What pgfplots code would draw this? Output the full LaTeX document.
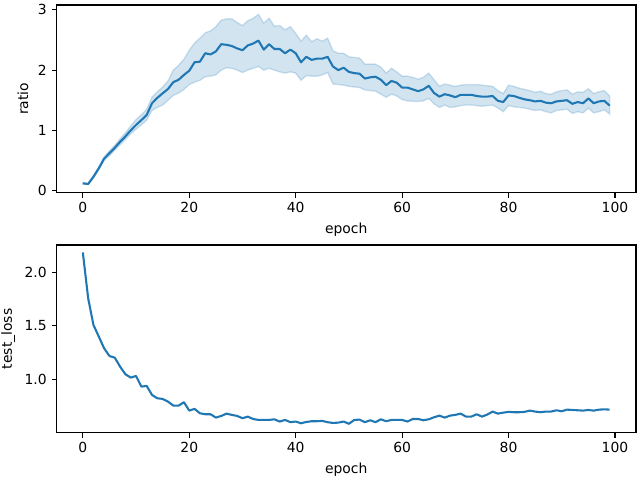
\documentclass[border=0pt]{standalone}
\usepackage{fontspec}
\setmainfont{DejaVu Sans}
\usepackage{pgfplots}
\pgfplotsset{compat=1.18}
\usepackage{pgfplotstable}
\definecolor{c0}{HTML}{1F77B4}

% mean ratio per epoch
\pgfplotstableread{
ep mean
0 0.12
1 0.11
2 0.23
3 0.37
4 0.53
5 0.62
6 0.71
7 0.81
8 0.90
9 1.00
10 1.09
11 1.17
12 1.255
13 1.45
14 1.54
15 1.615
16 1.686
17 1.80
18 1.84
19 1.92
20 1.99
21 2.13
22 2.14
23 2.28
24 2.26
25 2.31
26 2.43
27 2.42
28 2.40
29 2.36
30 2.33
31 2.41
32 2.44
33 2.49
34 2.34
35 2.43
36 2.35
37 2.35
38 2.28
39 2.34
40 2.28
41 2.13
42 2.22
43 2.17
44 2.19
45 2.19
46 2.22
47 2.06
48 2.00
49 2.04
50 1.97
51 1.95
52 1.94
53 1.86
54 1.88
55 1.89
56 1.84
57 1.75
58 1.82
59 1.79
60 1.71
61 1.71
62 1.68
63 1.65
64 1.68
65 1.74
66 1.62
67 1.56
68 1.60
69 1.58
70 1.55
71 1.59
72 1.59
73 1.59
74 1.57
75 1.56
76 1.56
77 1.57
78 1.49
79 1.47
80 1.58
81 1.57
82 1.54
83 1.515
84 1.50
85 1.48
86 1.49
87 1.46
88 1.45
89 1.48
90 1.49
91 1.50
92 1.44
93 1.47
94 1.45
95 1.53
96 1.45
97 1.48
98 1.49
99 1.41
}\ratiotab

% confidence band outline: upper edge 0..99, then lower edge 99..0
\pgfplotstableread{
ep band
0 0.13
1 0.12
2 0.25
3 0.39
4 0.56
5 0.66
6 0.75
7 0.86
8 0.96
9 1.07
10 1.18
11 1.26
12 1.35
13 1.55
14 1.64
15 1.72
16 1.82
17 2.00
18 2.08
19 2.18
20 2.33
21 2.45
22 2.53
23 2.62
24 2.65
25 2.72
26 2.83
27 2.85
28 2.85
29 2.79
30 2.74
31 2.82
32 2.86
33 2.925
34 2.78
35 2.86
36 2.73
37 2.74
38 2.67
39 2.72
40 2.61
41 2.48
42 2.58
43 2.47
44 2.52
45 2.48
46 2.53
47 2.32
48 2.28
49 2.28
50 2.22
51 2.21
52 2.20
53 2.10
54 2.10
55 2.10
56 2.05
57 1.95
58 2.03
59 1.97
60 1.90
61 1.90
62 1.88
63 1.85
64 1.88
65 1.95
66 1.84
67 1.73
68 1.77
69 1.75
70 1.73
71 1.75
72 1.76
73 1.76
74 1.76
75 1.75
76 1.74
77 1.73
78 1.66
79 1.61
80 1.75
81 1.73
82 1.70
83 1.68
84 1.66
85 1.63
86 1.65
87 1.61
88 1.60
89 1.64
90 1.66
91 1.67
92 1.60
93 1.64
94 1.63
95 1.69
96 1.61
97 1.64
98 1.66
99 1.57
99 1.27
98 1.34
97 1.31
96 1.29
95 1.37
94 1.29
93 1.31
92 1.28
91 1.35
90 1.34
89 1.33
88 1.29
87 1.31
86 1.34
85 1.33
84 1.35
83 1.37
82 1.38
81 1.39
80 1.41
79 1.31
78 1.37
77 1.42
76 1.41
75 1.40
74 1.41
73 1.42
72 1.42
71 1.41
70 1.39
69 1.38
68 1.42
67 1.38
66 1.44
65 1.53
64 1.49
63 1.48
62 1.48
61 1.49
60 1.51
59 1.57
58 1.60
57 1.55
56 1.60
55 1.65
54 1.66
53 1.67
52 1.71
51 1.72
50 1.73
49 1.75
48 1.76
47 1.77
46 1.96
45 1.92
44 1.90
43 1.90
42 1.91
41 1.83
40 1.95
39 1.97
38 1.95
37 1.97
36 2.00
35 2.03
34 2.00
33 2.06
32 2.03
31 2.00
30 1.96
29 2.00
28 2.03
27 2.04
26 2.00
25 1.92
24 1.90
23 1.89
22 1.83
21 1.80
20 1.76
19 1.68
18 1.62
17 1.58
16 1.50
15 1.42
14 1.38
13 1.33
12 1.17
11 1.09
10 1.02
9 0.94
8 0.85
7 0.76
6 0.67
5 0.58
4 0.50
3 0.35
2 0.21
1 0.10
0 0.11
}\bandtab

\pgfplotstableread{
ep loss
0 2.183
1 1.755
2 1.506
3 1.398
4 1.289
5 1.217
6 1.202
7 1.118
8 1.047
9 1.016
10 1.031
11 0.932
12 0.938
13 0.854
14 0.823
15 0.817
16 0.792
17 0.755
18 0.755
19 0.786
20 0.708
21 0.724
22 0.683
23 0.674
24 0.674
25 0.643
26 0.658
27 0.680
28 0.668
29 0.658
30 0.637
31 0.652
32 0.630
33 0.621
34 0.621
35 0.621
36 0.627
37 0.606
38 0.621
39 0.600
40 0.606
41 0.590
42 0.602
43 0.609
44 0.609
45 0.612
46 0.600
47 0.593
48 0.596
49 0.606
50 0.585
51 0.621
52 0.624
53 0.600
54 0.618
55 0.600
56 0.627
57 0.609
58 0.621
59 0.621
60 0.621
61 0.606
62 0.630
63 0.630
64 0.618
65 0.627
66 0.646
67 0.661
68 0.643
69 0.661
70 0.668
71 0.680
72 0.652
73 0.652
74 0.674
75 0.652
76 0.671
77 0.699
78 0.680
79 0.689
80 0.696
81 0.693
82 0.693
83 0.696
84 0.708
85 0.699
86 0.693
87 0.699
88 0.699
89 0.711
90 0.702
91 0.717
92 0.714
93 0.711
94 0.708
95 0.714
96 0.708
97 0.717
98 0.720
99 0.717
}\losstab

\pgfplotsset{
  mpl/.style={
    scale only axis,
    width=417.24pt, height=135.1pt,
    anchor=south west,
    xmin=-4.95, xmax=103.95,
    xtick={0,20,40,60,80,100},
    xtick pos=left, ytick pos=left,
    tick align=outside,
    major tick length=3.5pt,
    every tick/.style={black, line width=0.8pt},
    axis line style={line width=0.8pt},
    /pgf/number format/assume math mode=true,
    ticklabel style={font=\fontsize{10}{12}\selectfont},
    label style={font=\fontsize{10}{12}\selectfont},
    xlabel={epoch},
  }
}

\begin{document}
\begin{tikzpicture}
\path[use as bounding box] (0pt,0pt) rectangle (460.8pt,345.6pt);
\begin{axis}[mpl, at={(40.68pt,206.86pt)},
  ymin=-0.035, ymax=3.08, ytick={0,1,2,3},
  ylabel={ratio}]
  \addplot[fill=c0, fill opacity=0.2, draw=c0, draw opacity=0.2, line width=1pt] table[x=ep, y=band] {\bandtab} -- cycle;
  \addplot[c0, line width=1.5pt, line join=round] table[x=ep, y=mean] {\ratiotab};
\end{axis}
\begin{axis}[mpl, at={(40.68pt,34.06pt)},
  ymin=0.502, ymax=2.252, ytick={1.0,1.5,2.0},
  yticklabel style={/pgf/number format/.cd, fixed, fixed zerofill, precision=1},
  ylabel={test\_loss}]
  \addplot[c0, line width=1.5pt, line join=round] table[x=ep, y=loss] {\losstab};
\end{axis}
\end{tikzpicture}
\end{document}
